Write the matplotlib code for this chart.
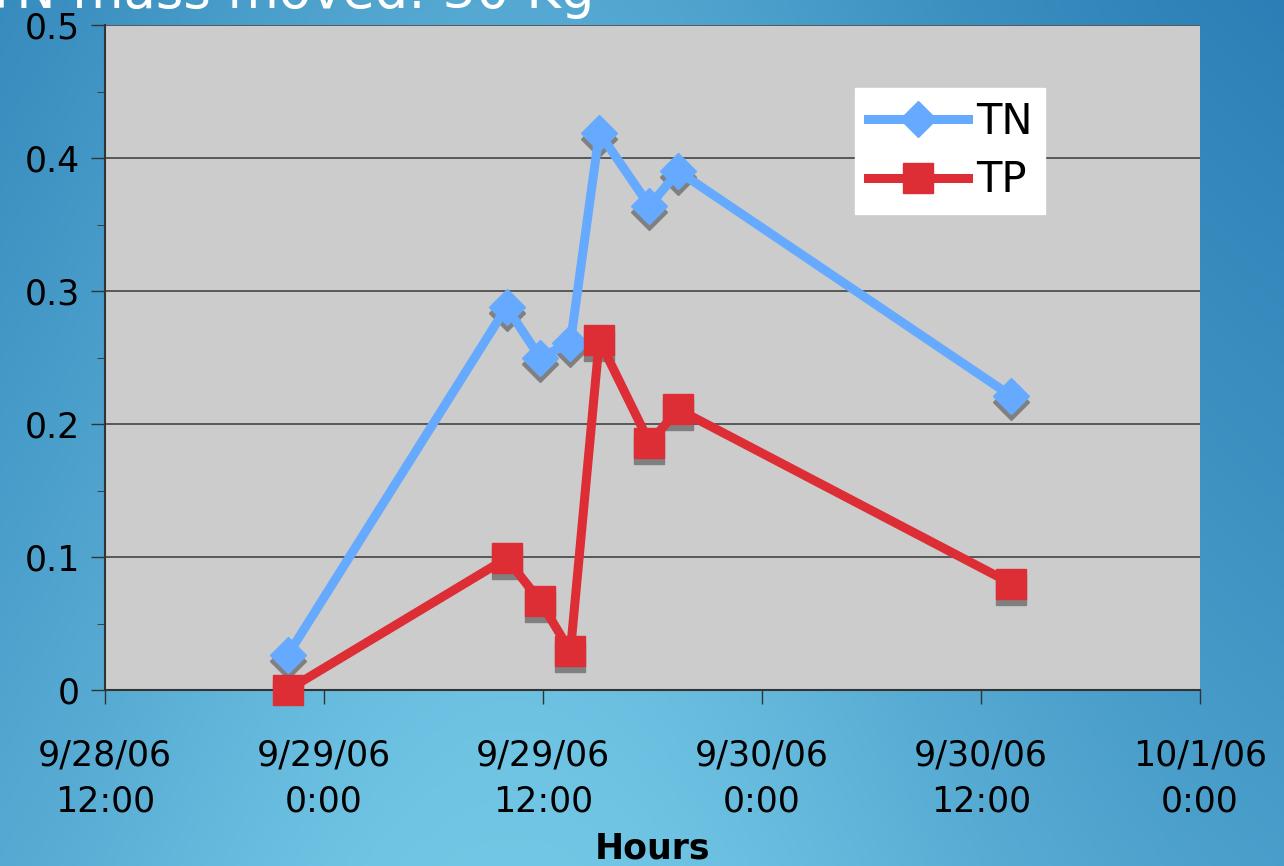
import numpy as np
import matplotlib
matplotlib.use("Agg")
import matplotlib.pyplot as plt
import matplotlib.transforms as mtransforms
from datetime import datetime

plt.rcParams['font.family'] = ['DejaVu Sans']

# sample times and loads
times = ["2006-09-28 22:00", "2006-09-29 10:00", "2006-09-29 11:50", "2006-09-29 13:30",
         "2006-09-29 15:05", "2006-09-29 17:50", "2006-09-29 19:25", "2006-09-30 13:40"]
tn = [0.026, 0.288, 0.250, 0.261, 0.419, 0.364, 0.390, 0.221]
tp = [0.000, 0.099, 0.067, 0.029, 0.263, 0.186, 0.211, 0.080]
tick_labels = ["9/28/06\n12:00", "9/29/06\n0:00", "9/29/06\n12:00",
               "9/30/06\n0:00", "9/30/06\n12:00", "10/1/06\n0:00"]
tick_times = ["2006-09-28 12:00", "2006-09-29 00:00", "2006-09-29 12:00",
              "2006-09-30 00:00", "2006-09-30 12:00", "2006-10-01 00:00"]

x = [datetime.strptime(t, "%Y-%m-%d %H:%M") for t in times]
xt = [datetime.strptime(t, "%Y-%m-%d %H:%M") for t in tick_times]

fig = plt.figure(figsize=(12.84, 8.66), dpi=100)

# blue background made from a simple gradient
bg = fig.add_axes([0, 0, 1, 1])
h, w = 200, 300
xx = np.linspace(0, 1, w)
yy = np.linspace(0, 1, h)[:, None]
light = np.exp(-((xx - 0.4) / 0.4) ** 2) * 0.6 + yy * 0.4
light = np.clip(light, 0, 1)
dark = np.array([0.15, 0.48, 0.70])
bright = np.array([0.45, 0.78, 0.90])
img = dark[None, None, :] + (bright - dark)[None, None, :] * light[:, :, None]
bg.imshow(img, aspect='auto', extent=[0, 1, 0, 1], origin='upper')
bg.axis('off')

# title sits mostly above the picture, as in the slide
fig.text(-0.012, 1.008, "TN mass moved: 30 Kg", color='white', fontsize=38,
         ha='left', va='center')

ax = fig.add_axes([0.0818, 0.2032, 0.8528, 0.7679])
ax.set_facecolor('#cccccc')

sh = mtransforms.offset_copy(ax.transData, fig=fig, x=0, y=-6, units='dots')
ax.plot(x, tn, linestyle='none', marker='D', markersize=18, color='#808080',
        transform=sh, zorder=2)
ax.plot(x, tp, linestyle='none', marker='s', markersize=21, color='#808080',
        transform=sh, zorder=2)
ax.plot(x, tn, color='#66aaff', linewidth=6.5, marker='D', markersize=18,
        label='TN', zorder=3, clip_on=False)
ax.plot(x, tp, color='#dd2d35', linewidth=6.5, marker='s', markersize=21,
        label='TP', zorder=4, clip_on=False)

ax.set_ylim(0, 0.5)
ax.set_xlim(xt[0], xt[-1])
ax.set_yticks([0, 0.1, 0.2, 0.3, 0.4, 0.5])
ax.set_yticklabels(["0", "0.1", "0.2", "0.3", "0.4", "0.5"])
ax.set_yticks(np.arange(0.05, 0.5, 0.1), minor=True)
ax.set_xticks(xt)
ax.set_xticklabels(tick_labels, fontsize=25, linespacing=1.45)
ax.tick_params(axis='y', labelsize=25, length=10, width=1, color='#333333', pad=8)
ax.tick_params(axis='y', which='minor', length=6, color='#333333')
ax.tick_params(axis='x', length=10, width=1, color='#333333', pad=25)
ax.grid(axis='y', color='#444444', linewidth=1.2)
ax.set_axisbelow(True)
for s in ['top', 'right']:
    ax.spines[s].set_visible(False)
for s in ['left', 'bottom']:
    ax.spines[s].set_color('#333333')
    ax.spines[s].set_linewidth(1.5)

ax.set_xlabel("Hours", fontsize=25, fontweight='bold', labelpad=9)

leg = ax.legend(loc='upper left', bbox_to_anchor=(0.685, 0.905), fontsize=30,
                frameon=True, fancybox=False, handlelength=2.4, borderpad=0.3,
                labelspacing=0.4, handletextpad=0.2, borderaxespad=0)
leg.get_frame().set_facecolor('white')
leg.get_frame().set_edgecolor('white')
leg.get_frame().set_alpha(1)

fig.savefig("out.png", dpi=100)
